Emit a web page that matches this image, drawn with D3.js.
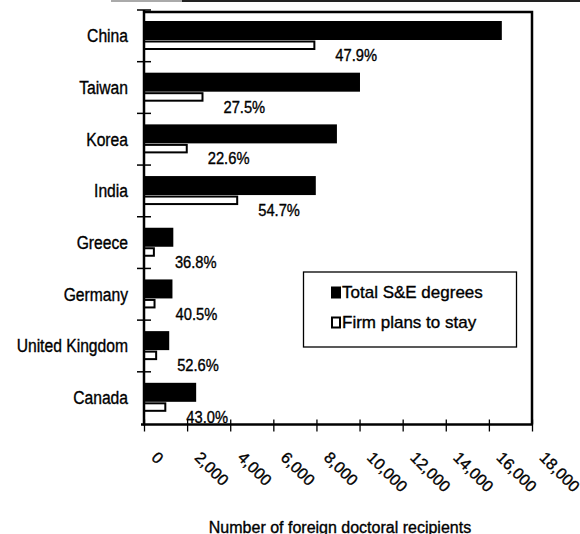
<!DOCTYPE html>
<html>
<head>
<meta charset="utf-8">
<script src="https://cdn.jsdelivr.net/npm/d3@7"></script>
<style>
  body { margin: 0; background: #fff; }
  svg { display: block; font-family: "Liberation Sans", Arial, sans-serif; }
  svg text { fill: #000; stroke: #000; stroke-width: 0.35px; }
</style>
</head>
<body>
<div id="chart"></div>
<script>
// values
const countries = ["China", "Taiwan", "Korea", "India", "Greece", "Germany", "United Kingdom", "Canada"];
const totalDegrees = [16600, 10020, 8950, 7970, 1360, 1320, 1170, 2420];
const stayPlans = [7950, 2760, 2030, 4370, 505, 535, 610, 1035];
const stayPct = ["47.9%", "27.5%", "22.6%", "54.7%", "36.8%", "40.5%", "52.6%", "43.0%"];
const xTicks = [0, 2000, 4000, 6000, 8000, 10000, 12000, 14000, 16000, 18000];
const legendLabels = ["Total S&E degrees", "Firm plans to stay"];
const xTitle = "Number of foreign doctoral recipients";

const width = 580, height = 534;
const plotLeft = 144, plotRight = 532, plotTop = 10, plotBottom = 423.5;
const axisY = 424.5;

const svg = d3.select("#chart").append("svg")
  .attr("width", width)
  .attr("height", height);

const x = d3.scaleLinear().domain([0, 18000]).range([plotLeft, plotRight]);
const y = d3.scaleBand().domain(countries).range([plotTop, plotBottom]);
const bw = y.bandwidth();

// scanned page rule at the very top
svg.append("line").attr("x1", 111).attr("x2", 182).attr("y1", 1).attr("y2", 1)
  .attr("stroke", "#aaa").attr("stroke-width", 2);
svg.append("line").attr("x1", 182).attr("x2", 580).attr("y1", 1).attr("y2", 1)
  .attr("stroke", "#222").attr("stroke-width", 2);

// frame: top + right
svg.append("path")
  .attr("d", `M${plotLeft},${plotTop + 2}H${plotRight}V${axisY}`)
  .attr("fill", "none").attr("stroke", "#000").attr("stroke-width", 2.5);

// bars
const rows = countries.map((c, i) => ({ c, total: totalDegrees[i], stay: stayPlans[i], pct: stayPct[i] }));

svg.append("g").selectAll("rect")
  .data(rows).enter().append("rect")
  .attr("x", plotLeft)
  .attr("y", d => y(d.c) + 11)
  .attr("width", d => x(d.total) - plotLeft)
  .attr("height", 19)
  .attr("fill", "#000");

svg.append("g").selectAll("rect")
  .data(rows).enter().append("rect")
  .attr("x", plotLeft)
  .attr("y", d => y(d.c) + 31.5)
  .attr("width", d => x(d.stay) - plotLeft - 1)
  .attr("height", 7.5)
  .attr("fill", "#fff")
  .attr("stroke", "#000")
  .attr("stroke-width", 2);

// percent labels
svg.append("g").selectAll("text")
  .data(rows).enter().append("text")
  .attr("transform", d => `translate(${x(d.stay) + 20},${y(d.c) + bw * 0.88}) scale(0.92,1)`)
  .attr("dy", "0.35em")
  .style("font-size", "16px")
  .text(d => d.pct);

// category labels
svg.append("g").selectAll("text")
  .data(countries).enter().append("text")
  .attr("transform", d => `translate(128,${y(d) + bw / 2}) scale(0.87,1)`)
  .attr("dy", "0.35em")
  .attr("text-anchor", "end")
  .style("font-size", "18px")
  .text(d => d);

// left axis with ticks at band edges
const edges = countries.map(c => y(c));
svg.append("line").attr("x1", plotLeft).attr("x2", plotLeft).attr("y1", plotTop).attr("y2", axisY + 1)
  .attr("stroke", "#000").attr("stroke-width", 2.5);
svg.append("g").selectAll("line")
  .data(edges).enter().append("line")
  .attr("x1", plotLeft - 7).attr("x2", plotLeft + 7)
  .attr("y1", d => d).attr("y2", d => d)
  .attr("stroke", "#000").attr("stroke-width", 1.5);

// bottom axis
const xAxis = svg.append("g")
  .attr("transform", `translate(0,${axisY})`)
  .call(d3.axisBottom(x).tickValues(xTicks).tickSize(7).tickFormat(d3.format(",")));
xAxis.select(".domain")
  .attr("d", `M${plotLeft - 3},0H${plotRight + 1}`)
  .attr("stroke-width", 2.5);
xAxis.selectAll(".tick line")
  .attr("y1", -5)
  .attr("stroke-width", 1.3);
xAxis.selectAll(".tick text")
  .attr("y", 0).attr("dy", "0.35em")
  .attr("transform", "translate(10,30) rotate(45)")
  .attr("text-anchor", "start")
  .style("font-size", "16px")
  .style("font-family", "'Liberation Sans', Arial, sans-serif");

// axis title
svg.append("text")
  .attr("x", 340).attr("y", 533)
  .attr("text-anchor", "middle")
  .style("font-size", "16px")
  .text(xTitle);

// legend
const lg = svg.append("g");
lg.append("rect")
  .attr("x", 303.5).attr("y", 272).attr("width", 213).attr("height", 75)
  .attr("fill", "#fff").attr("stroke", "#000").attr("stroke-width", 1.3);
lg.append("rect").attr("x", 331).attr("y", 286.5).attr("width", 10).attr("height", 12)
  .attr("fill", "#000");
lg.append("rect").attr("x", 332).attr("y", 317.5).attr("width", 8).attr("height", 10)
  .attr("fill", "#fff").attr("stroke", "#000").attr("stroke-width", 2);
lg.selectAll("text.lab")
  .data(legendLabels).enter().append("text")
  .attr("class", "lab")
  .attr("x", 342)
  .attr("y", (d, i) => 292.5 + i * 30)
  .attr("dy", "0.35em")
  .style("font-size", "17px")
  .text(d => d);
</script>
</body>
</html>
